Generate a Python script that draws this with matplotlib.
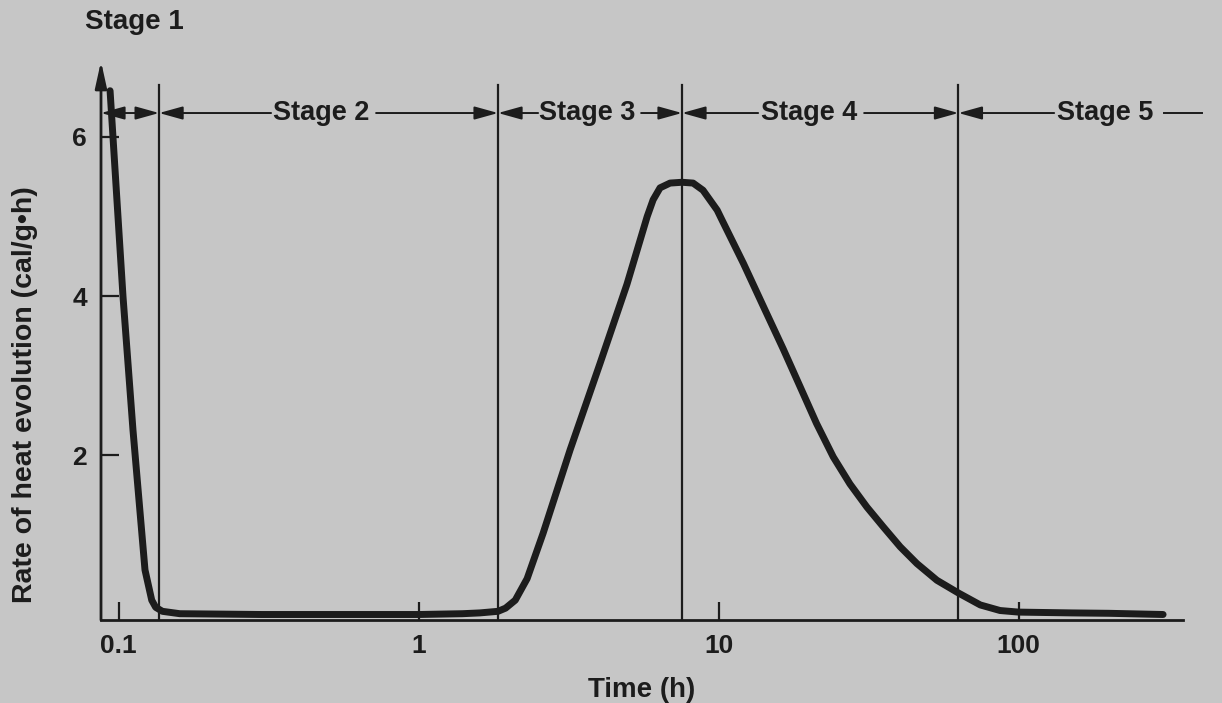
import matplotlib
matplotlib.use("Agg")
import matplotlib.pyplot as plt
import numpy as np

# ---- data ----
time_h = [0.0937, 0.1035, 0.1117, 0.1225, 0.129, 0.133, 0.140, 0.16, 0.3, 0.6, 1.0,
          1.4, 1.6, 1.84, 1.95, 2.1, 2.3, 2.60, 3.20, 4.03, 4.95, 5.78, 6.05, 6.38, 6.89,
          7.55, 8.22, 8.87, 9.89, 10.25, 12.1, 14.1, 16.4, 18.7, 21.2, 24.1, 27.4, 31.2,
          35.4, 40.3, 45.8, 53.4, 63.0, 74.5, 86.7, 100, 150, 200, 303]
rate = [6.58, 3.99, 2.32, 0.56, 0.18, 0.09, 0.04, 0.01, 0.0, 0.0, 0.0,
        0.01, 0.02, 0.04, 0.08, 0.18, 0.45, 1.02, 2.07, 3.16, 4.15, 5.0, 5.21, 5.36, 5.42,
        5.43, 5.42, 5.33, 5.08, 4.96, 4.41, 3.87, 3.34, 2.86, 2.40, 1.98, 1.64, 1.35,
        1.10, 0.85, 0.64, 0.43, 0.27, 0.12, 0.05, 0.03, 0.02, 0.015, 0.0]
stage_bounds = [0.1365, 1.84, 7.55, 63.0]
stage_labels = ["Stage 1", "Stage 2", "Stage 3", "Stage 4", "Stage 5"]
x_ticks = [0.1, 1, 10, 100]
x_ticklabels = ["0.1", "1", "10", "100"]
y_ticks = [2, 4, 6]
y_ticklabels = ["2", "4", "6"]

BG = "#c6c6c6"
INK = "#1c1c1c"
FONT = ["Liberation Sans Narrow", "Liberation Sans", "DejaVu Sans"]
plt.rcParams["font.family"] = FONT
plt.rcParams["font.weight"] = "bold"

W, H = 1222, 703
fig = plt.figure(figsize=(W / 100, H / 100), dpi=100, facecolor=BG)
xmin, xmax = 0.0874, 353
ymin, ymax = -0.07, 7.0
x0, x1 = 101, 1183
y_zero, px_per_unit = 614.5, 79.6
y1 = y_zero - ymin * px_per_unit
y0 = y_zero - ymax * px_per_unit
ax = fig.add_axes([x0 / W, 1 - y1 / H, (x1 - x0) / W, (y1 - y0) / H])
ax.set_facecolor(BG)

ax.set_xscale("log")
ax.set_xlim(xmin, xmax)
ax.set_ylim(ymin, ymax)

# curve
ax.plot(time_h, rate, color=INK, lw=5.0, solid_capstyle="round", solid_joinstyle="round", zorder=5)

# stage boundary lines
y_line_top = 6.65
for b in stage_bounds:
    ax.plot([b, b], [ymin, y_line_top], color=INK, lw=1.6, zorder=4)

# spines
for s in ["top", "right", "left"]:
    ax.spines[s].set_visible(False)
ax.spines["bottom"].set_linewidth(2.0)
ax.spines["bottom"].set_color(INK)
# y axis with arrow
ax.annotate("", xy=(xmin, 6.95), xytext=(xmin, ymin),
            arrowprops=dict(arrowstyle="-|>,head_length=1.0,head_width=0.22", color=INK, lw=2.0,
                            shrinkA=0, shrinkB=0, mutation_scale=16),
            annotation_clip=False, zorder=6)

ax.set_xticks(x_ticks)
ax.set_xticklabels(x_ticklabels)
ax.xaxis.set_minor_locator(matplotlib.ticker.NullLocator())
ax.set_yticks(y_ticks)
ax.set_yticklabels(y_ticklabels)
ax.tick_params(axis="both", direction="in", length=13, width=1.6, color=INK,
               labelsize=19, labelcolor=INK)
ax.tick_params(axis="x", pad=10)
ax.tick_params(axis="y", pad=10)

# stage arrows
ya = 6.30
ap = dict(arrowstyle="-|>,head_length=0.9,head_width=0.25", color=INK, lw=1.4,
          shrinkA=0, shrinkB=0, mutation_scale=16)
def arrow(xa, xb):
    ax.annotate("", xy=(xb, ya), xytext=(xa, ya), arrowprops=ap, annotation_clip=False, zorder=6)

def seg(xa, xb):
    ax.plot([xa, xb], [ya, ya], color=INK, lw=1.4, clip_on=False, zorder=6)

def lg(px):
    return 10 ** (-1 + (px - 118.5) / 300.0)

# Stage 1: double-headed arrow between axis and first boundary
ax.annotate("", xy=(stage_bounds[0], ya), xytext=(xmin, ya),
            arrowprops=dict(arrowstyle="<|-|>,head_length=0.9,head_width=0.25", color=INK, lw=1.4,
                            shrinkA=0, shrinkB=0, mutation_scale=16),
            annotation_clip=False, zorder=6)
fig.text(134 / W, 1 - 22 / H, stage_labels[0], ha="center", va="center",
         fontsize=20, color=INK, fontweight="bold")

# Stage 2..5 with labels
label_px = [(275, 368), (542, 633), (762, 856), (1058, 1152)]
lefts = stage_bounds
rights = stage_bounds[1:] + [None]
for i, (l, r) in enumerate(zip(lefts, rights)):
    tl, tr = label_px[i]
    gap = 4
    arrow(lg(tl - gap), l)
    if r is not None:
        arrow(lg(tr + gap + 4), r)
    else:
        seg(lg(tr + gap + 8), lg(1202))
    ax.text(10 ** ((np.log10(lg(tl)) + np.log10(lg(tr))) / 2), ya, stage_labels[i + 1],
            ha="center", va="center", fontsize=19.5, color=INK, fontweight="bold", zorder=7)

# axis labels
fig.text(25 / W, 1 - 395 / H, "Rate of heat evolution (cal/g\u2022h)", rotation=90,
         ha="center", va="center", fontsize=20.5, color=INK, fontweight="bold")
fig.text(642 / W, 1 - 677 / H, "Time (h)", ha="center", va="top",
         fontsize=20, color=INK, fontweight="bold")

fig.savefig("out.png", dpi=100, facecolor=BG)
